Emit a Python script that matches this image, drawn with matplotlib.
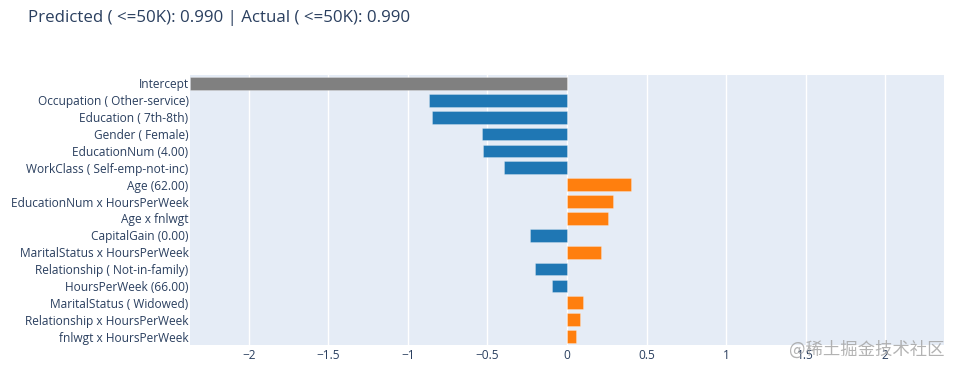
import matplotlib
matplotlib.use("Agg")
import matplotlib.pyplot as plt

features = [
    "Intercept",
    "Occupation ( Other-service)",
    "Education ( 7th-8th)",
    "Gender ( Female)",
    "EducationNum (4.00)",
    "WorkClass ( Self-emp-not-inc)",
    "Age (62.00)",
    "EducationNum x HoursPerWeek",
    "Age x fnlwgt",
    "CapitalGain (0.00)",
    "MaritalStatus x HoursPerWeek",
    "Relationship ( Not-in-family)",
    "HoursPerWeek (66.00)",
    "MaritalStatus ( Widowed)",
    "Relationship x HoursPerWeek",
    "fnlwgt x HoursPerWeek",
]
scores = [-2.37, -0.866, -0.851, -0.535, -0.526, -0.394, 0.40, 0.291, 0.256,
          -0.233, 0.216, -0.203, -0.096, 0.10, 0.082, 0.059]
xticks = [-2, -1.5, -1, -0.5, 0, 0.5, 1, 1.5, 2]
xtick_labels = ["−2", "−1.5", "−1", "−0.5", "0", "0.5", "1", "1.5", "2"]
title = "Predicted ( <=50K): 0.990 | Actual ( <=50K): 0.990"

plt.rcParams['font.family'] = ['Open Sans', 'DejaVu Sans']

fig = plt.figure(figsize=(9.59, 3.72), dpi=100)
ax = fig.add_axes([190/959, 1-345/372, (944-190)/959, (345-75)/372])
ax.set_facecolor("#E5ECF6")

colors = []
for f, s in zip(features, scores):
    if f == "Intercept":
        colors.append("#808080")
    elif s < 0:
        colors.append("#1f77b4")
    else:
        colors.append("#ff7f0e")

ypos = list(range(len(features)))
ax.barh(ypos, scores, height=0.76, color=colors, zorder=3,
        edgecolor=(1, 1, 1, 0.35), linewidth=0.5)
ax.set_ylim(len(features) - 0.5, -0.5)
ax.set_xlim(-2.37, 2.37)
ax.set_yticks(ypos)
ax.set_yticklabels(features, fontsize=8.6, color="#2a3f5f")
ax.set_xticks(xticks)
ax.set_xticklabels(xtick_labels, fontsize=8.6, color="#2a3f5f")
ax.tick_params(axis='both', length=0)
ax.tick_params(axis='y', pad=1)
ax.tick_params(axis='x', pad=3)
ax.grid(axis='x', color='white', linewidth=1, zorder=0)
ax.set_axisbelow(True)
for sp in ax.spines.values():
    sp.set_visible(False)

fig.text(28/959, 1-18/372, title, fontsize=12.2, color="#2a3f5f",
         ha='left', va='center')

fig.text(945/959, 1-350/372, "@稀土掘金技术社区", fontsize=12.5,
         color="#a0a0a0", alpha=0.8, ha='right', va='center',
         family=['Noto Sans CJK SC', 'DejaVu Sans'])

fig.savefig("out.png", dpi=100)
